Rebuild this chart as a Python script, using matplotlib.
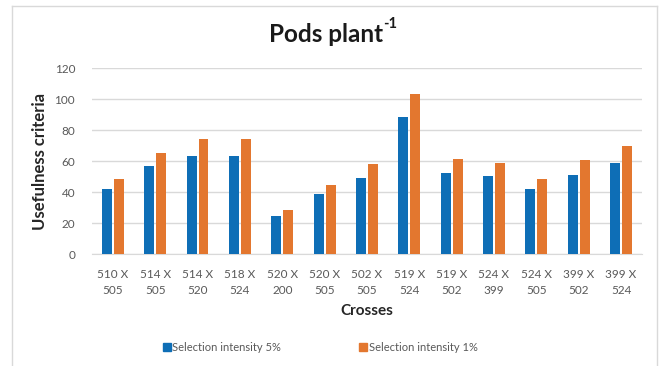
import matplotlib.pyplot as plt
import numpy as np
from matplotlib.lines import Line2D

plt.rcParams['font.family'] = ['Lato', 'DejaVu Sans']

crosses = ['510 X\n505', '514 X\n505', '514 X\n520', '518 X\n524', '520 X\n200',
           '520 X\n505', '502 X\n505', '519 X\n524', '519 X\n502', '524 X\n399',
           '524 X\n505', '399 X\n502', '399 X\n524']
si_5 = [41.7, 56.6, 63.0, 63.0, 24.3, 38.5, 49.0, 88.6, 52.0, 50.3, 41.7, 51.2, 58.9]
si_1 = [48.4, 65.2, 74.0, 74.4, 28.4, 44.7, 58.1, 103.2, 61.5, 58.5, 48.4, 60.6, 69.5]

blue = '#0E6EB6'
orange = '#E3772F'
grey = '#595959'

fig = plt.figure(figsize=(6.6, 3.66), dpi=100)
ax = fig.add_axes([0.139, 0.306, 0.834, 0.508])

x = np.arange(len(crosses))
w = 0.235
ax.bar(x - 0.14, si_5, w, color=blue, label='Selection intensity 5%', zorder=3)
ax.bar(x + 0.14, si_1, w, color=orange, label='Selection intensity 1%', zorder=3)

ax.set_xlim(-0.5, len(crosses) - 0.5)
ax.set_ylim(0, 120)
ax.set_yticks(range(0, 121, 20))
ax.yaxis.grid(True, color='#D9D9D9', lw=1)
ax.set_axisbelow(True)
for s in ['left', 'right', 'top']:
    ax.spines[s].set_visible(False)
ax.spines['bottom'].set_color('#D9D9D9')
ax.tick_params(length=0, colors=grey, labelsize=8.5)
ax.tick_params(axis='y', pad=12)
ax.tick_params(axis='x', pad=11)
ax.set_xticks(x)
ax.set_xticklabels(crosses, linespacing=1.5)

ax.set_ylabel('Usefulness criteria', fontsize=12, fontweight='bold', color='#262626', labelpad=5)
ax.set_xlabel('Crosses', fontsize=11, fontweight='bold', color='#262626', labelpad=6)

# title with a small superscript "-1"
fig.text(383/660, 0.905, 'Pods plant', ha='right', va='center',
         fontsize=17.5, fontweight='bold', color='#1a1a1a')
fig.text(383/660, 0.935, '-1', ha='left', va='center',
         fontsize=10.5, fontweight='bold', color='#1a1a1a')

handles = [Line2D([], [], marker='s', ls='', color=blue, markersize=6),
           Line2D([], [], marker='s', ls='', color=orange, markersize=6)]
fig.legend(handles, ['Selection intensity 5%', 'Selection intensity 1%'],
           loc='center', bbox_to_anchor=(0.485, 0.05), ncol=2, frameon=False,
           fontsize=8, handletextpad=0.1, columnspacing=7, handlelength=0.8,
           labelcolor=grey)

# light frame around the chart area
fig.add_artist(Line2D([12/660, 12/660], [0, 1 - 6/366], color='#D9D9D9', lw=1))
fig.add_artist(Line2D([657/660, 657/660], [0, 1 - 6/366], color='#D9D9D9', lw=1))
fig.add_artist(Line2D([12/660, 657/660], [1 - 6/366, 1 - 6/366], color='#D9D9D9', lw=1))

fig.savefig('out.png', dpi=100)
